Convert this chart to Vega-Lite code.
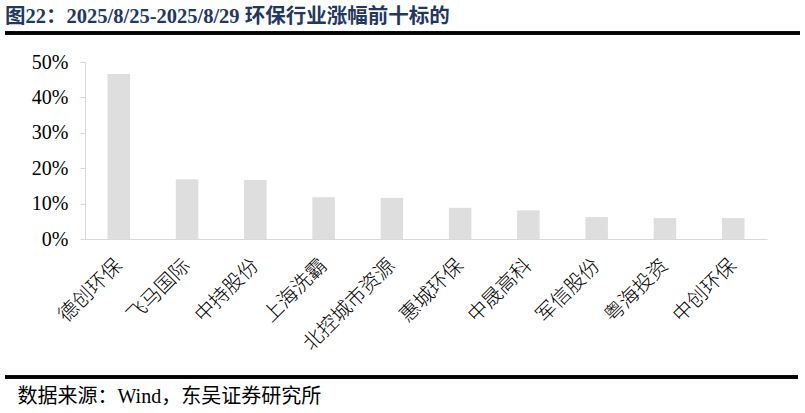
{
  "$schema": "https://vega.github.io/schema/vega-lite/v6.json",
  "autosize": {"type": "none"},
  "padding": {"left": 85, "top": 62, "right": 38, "bottom": 174},
  "width": 682,
  "height": 177,
  "background": "white",
  "config": {"view": {"stroke": null}},
  "title": {
    "text": "图22：2025/8/25-2025/8/29 环保行业涨幅前十标的",
    "anchor": "start",
    "frame": "group",
    "dx": -80,
    "offset": 4,
    "font": "Liberation Serif, Noto Sans CJK SC",
    "fontSize": 20.5,
    "fontWeight": "bold",
    "color": "#1f3864"
  },
  "data": {
    "values": [
      {"name": "德创环保", "pct": 0.466},
      {"name": "飞马国际", "pct": 0.169},
      {"name": "中持股份", "pct": 0.167},
      {"name": "上海洗霸", "pct": 0.118},
      {"name": "北控城市资源", "pct": 0.116},
      {"name": "惠城环保", "pct": 0.088},
      {"name": "中晟高科", "pct": 0.081},
      {"name": "军信股份", "pct": 0.062},
      {"name": "粤海投资", "pct": 0.059},
      {"name": "中创环保", "pct": 0.059}
    ]
  },
  "layer": [
    {
      "mark": {"type": "bar", "color": "#dedede"},
      "encoding": {
        "x": {
          "field": "name",
          "type": "nominal",
          "sort": null,
          "scale": {"paddingInner": 0.67, "paddingOuter": 0.33},
          "title": "数据来源：Wind，东吴证券研究所",
          "axis": {
            "labelAngle": -45,
            "labelAlign": "right",
            "labelBaseline": "middle",
            "labelPadding": 23,
            "labelFont": "Noto Sans CJK SC",
            "labelFontSize": 20,
            "labelFontWeight": 300,
            "labelColor": "#000000",
            "ticks": false,
            "domainColor": "#d9d9d9",
            "titleX": -68,
            "titleY": 157,
            "titleAlign": "left",
            "titleBaseline": "middle",
            "titleFont": "Liberation Serif, Noto Sans CJK SC",
            "titleFontSize": 20,
            "titleFontWeight": "normal",
            "titleColor": "#000000"
          }
        },
        "y": {
          "field": "pct",
          "type": "quantitative",
          "scale": {"domain": [0, 0.5]},
          "title": null,
          "axis": {
            "values": [0, 0.1, 0.2, 0.3, 0.4, 0.5],
            "format": ".0%",
            "grid": false,
            "domainColor": "#d9d9d9",
            "tickColor": "#d9d9d9",
            "tickSize": 5,
            "labelPadding": 12,
            "labelFont": "Liberation Serif",
            "labelFontSize": 20,
            "labelColor": "#000000"
          }
        }
      }
    },
    {
      "mark": {"type": "rule", "color": "#000000", "strokeWidth": 2.5},
      "encoding": {
        "x": {"value": -80},
        "x2": {"value": 715},
        "y": {"value": -29}
      }
    },
    {
      "mark": {"type": "rule", "color": "#000000", "strokeWidth": 2.5},
      "encoding": {
        "x": {"value": -80},
        "x2": {"value": 713},
        "y": {"value": 315}
      }
    }
  ]
}
